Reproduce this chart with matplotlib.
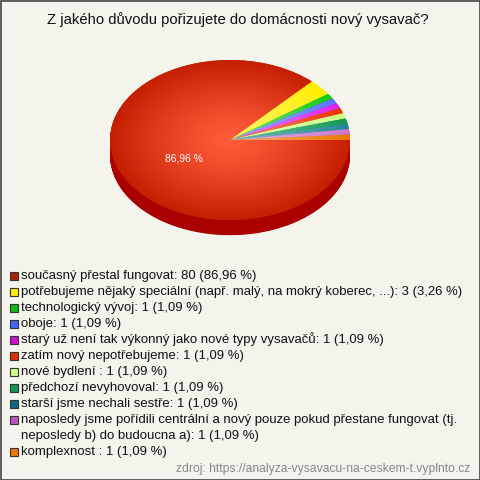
import numpy as np
import matplotlib
matplotlib.use('Agg')
import matplotlib.pyplot as plt
from matplotlib.colors import to_rgb
from matplotlib.patches import Rectangle

plt.rcParams['font.family'] = ['Liberation Sans', 'DejaVu Sans']

## Data
title = 'Z jakého důvodu pořizujete do domácnosti nový vysavač?'
labels = [
    'současný přestal fungovat',
    'potřebujeme nějaký speciální (např. malý, na mokrý koberec, ...)',
    'technologický vývoj',
    'oboje',
    'starý už není tak výkonný jako nové typy vysavačů',
    'zatím nový nepotřebujeme',
    'nové bydlení ',
    'předchozí nevyhovoval',
    'starší jsme nechali sestře',
    'naposledy jsme pořídili centrální a nový pouze pokud přestane fungovat (tj.\nneposledy b) do budoucna a)',
    'komplexnost ',
]
counts = [80, 3, 1, 1, 1, 1, 1, 1, 1, 1, 1]
slice_colors = ['#c41f00', '#ffee00', '#11cc11', '#5577ff', '#dd22ee', '#ee3300',
                '#ccff88', '#119955', '#228899', '#cc77cc', '#ee7700']
legend_colors = ['#aa2200', '#ffee00', '#11bb11', '#4466ff', '#cc11cc', '#dd3300',
                 '#ccff88', '#119955', '#116688', '#bb55bb', '#ee7700']
source = 'zdroj: https://analyza-vysavacu-na-ceskem-t.vyplnto.cz'

W = H = 480
bg = '#f4f4ec'

fig = plt.figure(figsize=(4.8, 4.8), dpi=100, facecolor=bg)

# overlay axes in pixel coordinates
ax = fig.add_axes([0, 0, 1, 1])
ax.set_xlim(0, W)
ax.set_ylim(H, 0)
ax.axis('off')
ax.add_patch(Rectangle((0.5, 0.5), W - 1, H - 1, fill=False, ec='#444444', lw=1.2))

ax.text(238, 20, title, ha='center', va='center', fontsize=10.7, color='#111111')

# pie axes: ellipse box x 110..350, top 60, centre y 140
cx, cy, rx, ry = 230, 140, 120, 80
bottom = 1.3
pax = fig.add_axes([(cx - rx) / W, (H - (cy + ry * bottom)) / H,
                    2 * rx / W, ry * (1 + bottom) / H])

total = sum(counts)

# side of the 3D pie
dark = [tuple(c * 0.72 for c in to_rgb(col)) for col in slice_colors]
dark[0] = '#aa0000'
for dy in np.linspace(-0.19, -0.01, 25):
    pax.pie(counts, colors=dark, startangle=0, counterclock=False, center=(0, dy),
            wedgeprops=dict(linewidth=0))

wedges, texts, autotexts = pax.pie(
    counts, colors=slice_colors, startangle=0, counterclock=False,
    wedgeprops=dict(linewidth=0),
    autopct=lambda p: ('%.2f %%' % p).replace('.', ',') if p > 50 else '',
    pctdistance=0.42, textprops=dict(color='white', fontsize=7.4))

# radial gradient on top face
xx, yy = np.meshgrid(np.linspace(-1, 1, 300), np.linspace(-1, 1, 300))
rr = np.clip(np.sqrt(xx ** 2 + yy ** 2), 0, 1)[..., None]
for w, col in zip(wedges, slice_colors):
    base = np.array(to_rgb(col))
    light = np.array(to_rgb('#ff5b3b')) if col == slice_colors[0] else base * 0.6 + 0.4
    img = light * (1 - rr ** 1.3) + base * rr ** 1.3
    im = pax.imshow(img, extent=(-1, 1, -1, 1), origin='lower', aspect='auto',
                    zorder=w.get_zorder() + 0.5, interpolation='bilinear')
    im.set_clip_path(w)
for t in autotexts:
    t.set_zorder(10)
    t.set_va('top')

pax.set_aspect('auto')
pax.set_xlim(-1, 1)
pax.set_ylim(-bottom, 1)
pax.axis('off')

# legend
y = 279
for lab, col, n in zip(labels, legend_colors, counts):
    pct = ('%.2f' % (100 * n / total)).replace('.', ',')
    lines = ('%s: %d (%s %%)' % (lab, n, pct)).split('\n')
    ax.add_patch(Rectangle((9.5, y - 7.5), 8, 8, fc=col, ec='#333333', lw=0.8))
    for line in lines:
        ax.text(21, y, line, ha='left', va='baseline', fontsize=9.45, color='#111111')
        y += 16

ax.text(470, 472, source, ha='right', va='baseline', fontsize=8.7, color='#888888')

fig.savefig('out.png', dpi=100, facecolor=bg)
